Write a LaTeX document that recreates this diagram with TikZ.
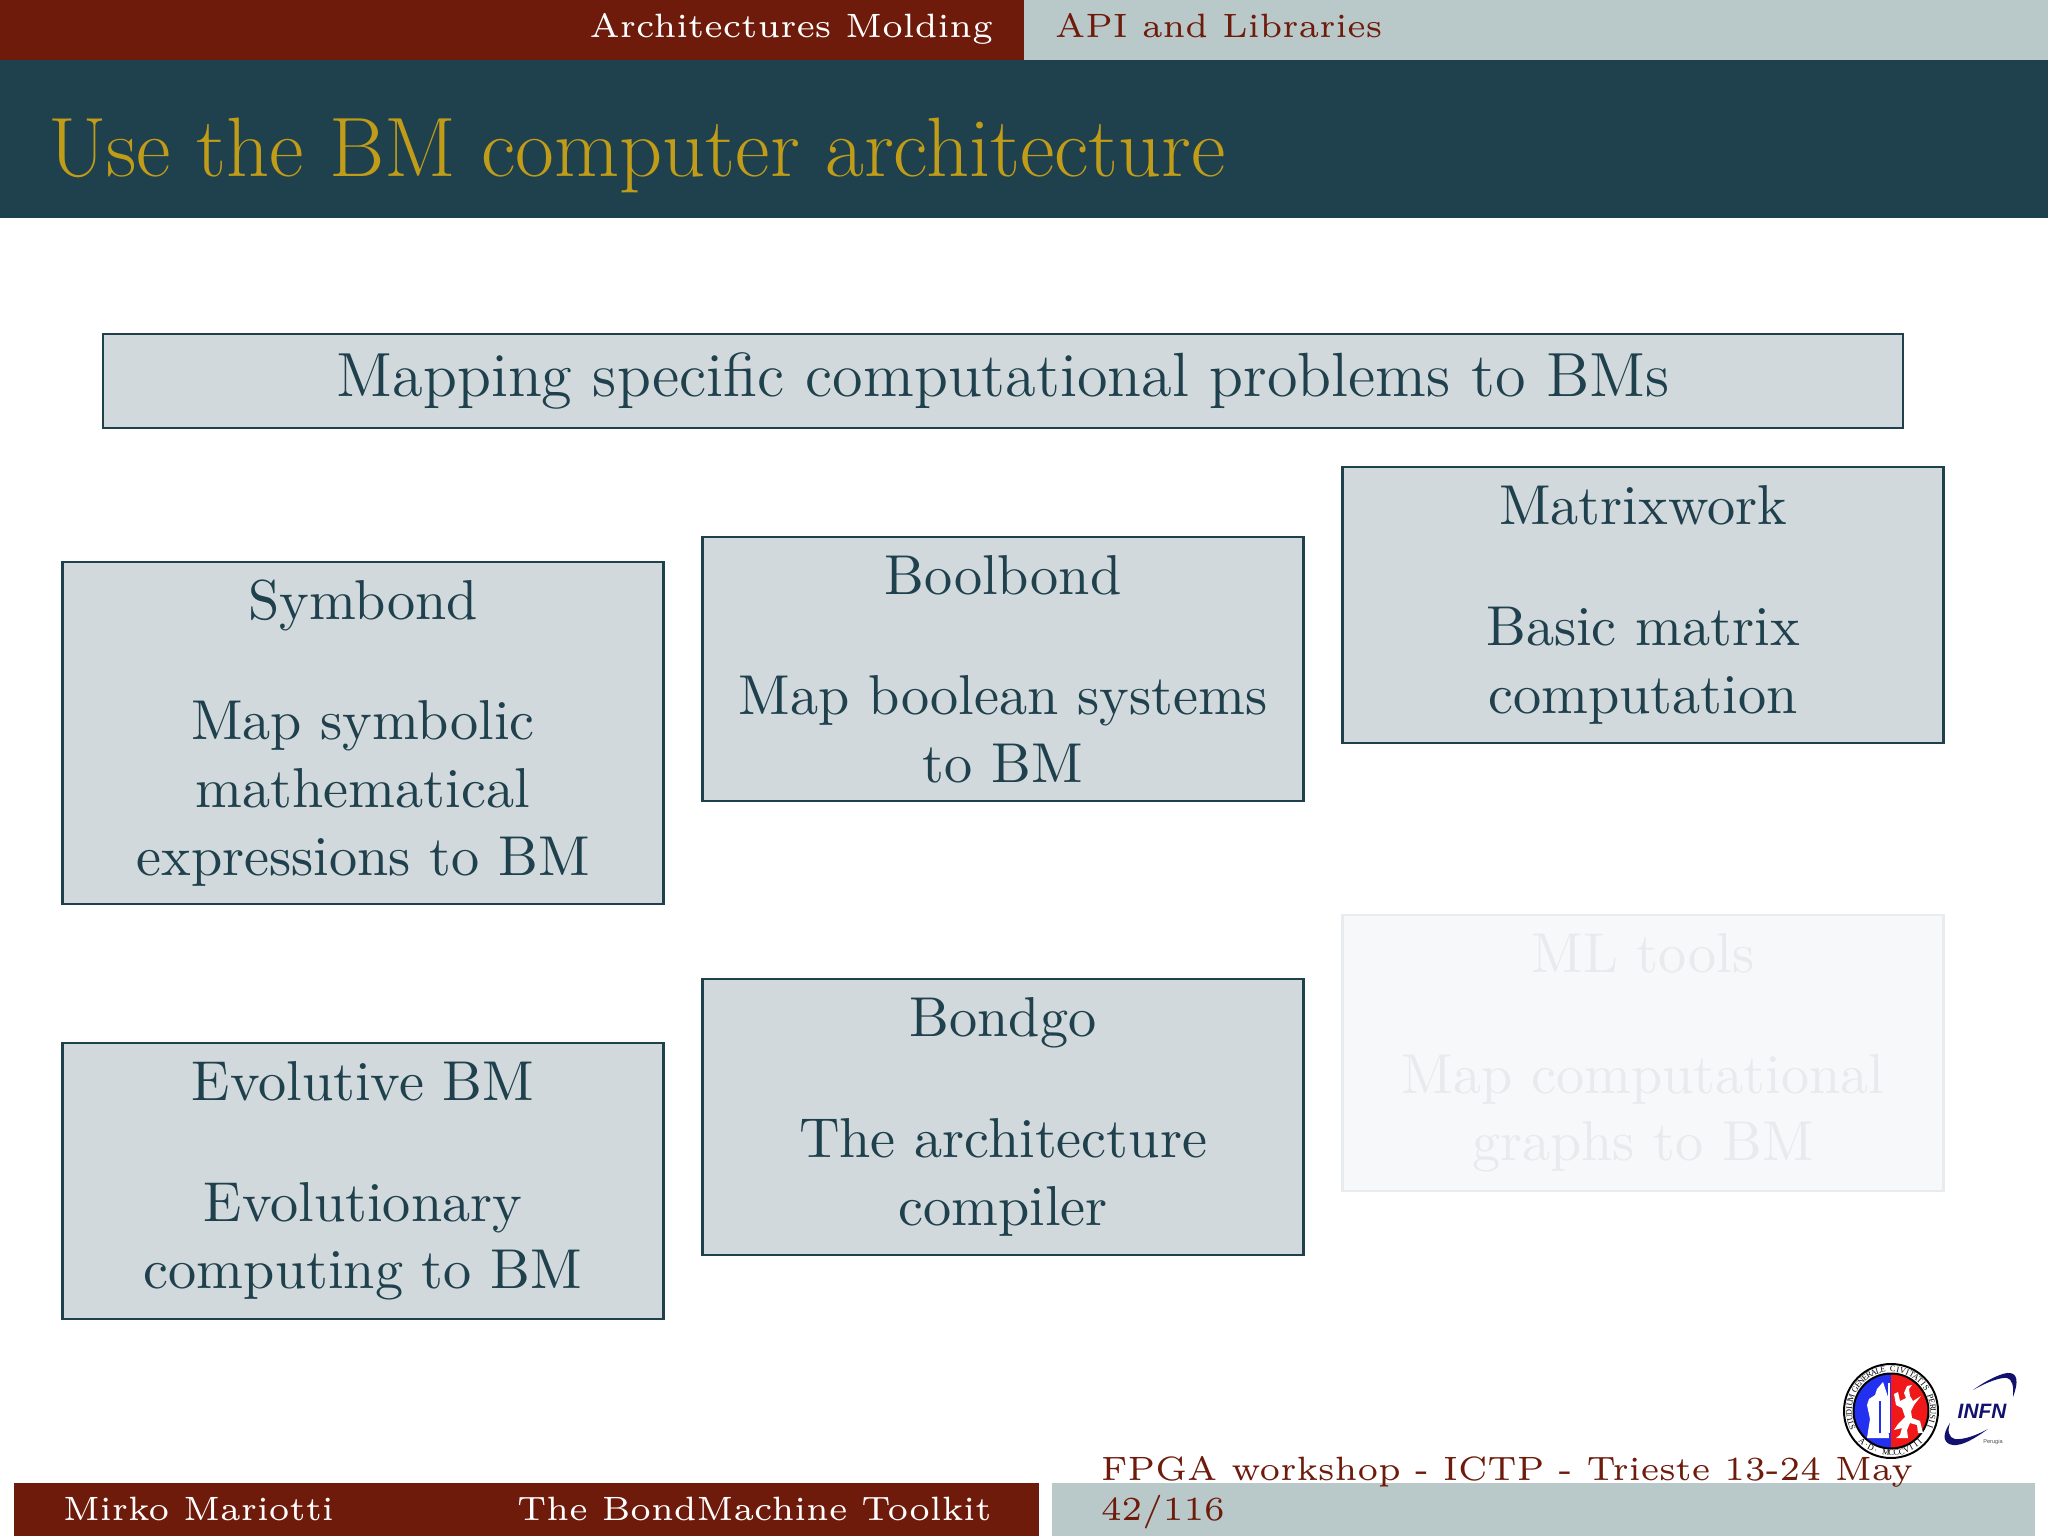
\documentclass[tikz,border=0pt]{standalone}
\usepackage{fontspec}
\newfontfamily\logofont{Liberation Sans}
\newfontfamily\sealfont{Liberation Serif}
\definecolor{barred}{HTML}{6E1B0B}
\definecolor{teal}{HTML}{1F414D}
\definecolor{gold}{HTML}{C09C18}
\definecolor{tabgray}{HTML}{B9C8C8}
\definecolor{boxfill}{HTML}{D2D9DC}
\definecolor{fadefill}{HTML}{F7F8F9}
\definecolor{fadeline}{HTML}{E9ECEE}
\definecolor{fadetext}{HTML}{E8EBED}
\definecolor{sealblue}{HTML}{2430F0}
\definecolor{sealred}{HTML}{F01818}
\definecolor{infnblue}{HTML}{12126E}
\tikzset{
  block/.style={draw=teal,line width=0.4pt,fill=boxfill,text=teal,inner sep=0pt,align=center,font=\fontsize{10}{12.05}\selectfont},
  fadeblock/.style={block,draw=fadeline,fill=fadefill,text=fadetext},
  headtext/.style={inner sep=0pt,font=\fontsize{6}{9}\selectfont},
  foottext/.style={inner sep=0pt,font=\fontsize{6}{9}\selectfont,anchor=base west},
  sealch/.style={inner sep=0pt,text=black,font=\sealfont\fontsize{1.5}{2}\selectfont},
}
\begin{document}
\begin{tikzpicture}[x=0.0625mm,y=-0.0625mm]
\useasboundingbox (0,0) rectangle (2048,1536);
% header
\fill[barred] (0,0) rectangle (1024,60);
\fill[tabgray] (1024,0) rectangle (2048,60);
\fill[teal] (0,60) rectangle (2048,218);
\node[headtext,text=white,anchor=base east] (sec) at (994,38) {Architectures Molding};
\node[headtext,text=barred,anchor=base west] (sub) at (1054,38) {API and Libraries};
\node[inner sep=0pt,anchor=base west,text=gold,font=\fontsize{15}{18}\selectfont] (title) at (47,176) {Use the BM computer architecture};
% blocks
\node[block,font=\fontsize{11.1}{13}\selectfont,minimum width=1800*0.0625mm,minimum height=94*0.0625mm] (top) at (1003,381) {Mapping specific computational problems to BMs};
\node[block,minimum width=601*0.0625mm,minimum height=342*0.0625mm] (symbond) at (363,733) {Symbond\\[9.4pt]Map symbolic\\mathematical\\expressions to BM};
\node[block,minimum width=601*0.0625mm,minimum height=264*0.0625mm] (boolbond) at (1003,669) {Boolbond\\[9.4pt]Map boolean systems\\to BM};
\node[block,minimum width=601*0.0625mm,minimum height=276*0.0625mm] (matrix) at (1643,605) {Matrixwork\\[9.4pt]Basic matrix\\computation};
\node[block,minimum width=601*0.0625mm,minimum height=276*0.0625mm] (evol) at (363,1181) {Evolutive BM\\[9.4pt]Evolutionary\\computing to BM};
\node[block,minimum width=601*0.0625mm,minimum height=276*0.0625mm] (bondgo) at (1003,1117) {Bondgo\\[9.4pt]The architecture\\compiler};
\node[fadeblock,minimum width=601*0.0625mm,minimum height=276*0.0625mm] (ml) at (1643,1053) {ML tools\\[9.4pt]Map computational\\graphs to BM};
% footer
\fill[barred] (14,1483) rectangle (1039,1536);
\fill[tabgray] (1052,1483) rectangle (2035,1536);
\node[foottext,text=white] (author) at (62,1520) {Mirko Mariotti};
\node[foottext,text=white] (talk) at (516,1520) {The BondMachine Toolkit};
\node[foottext,text=barred] (event) at (1100,1480) {FPGA workshop - ICTP - Trieste 13-24 May};
\node[foottext,text=barred] (page) at (1100,1520) {42/116};
% seal
\begin{scope}[shift={(1891,1411)},x=0.0625mm,y=0.0625mm]
\fill[white] (0,0) circle (47);
\draw[black,line width=0.35pt] (0,0) circle (47);
\fill[sealblue] (0,37) arc (90:270:37) -- cycle;
\fill[sealred] (0,-37) arc (-90:90:37) -- cycle;
\draw[black,line width=0.35pt] (0,0) circle (37.5);
\foreach \ch [count=\i] in {S,T,U,D,I,U,M,{},G,E,N,E,R,A,L,E,{},C,I,V,I,T,A,T,I,S,{},P,E,R,U,S,I,I}
  \node[sealch,rotate={209.8-\i*6.8-90}] (up\i) at ({209.8-\i*6.8}:42) {\ch};
\foreach \ch [count=\i] in {A,.,D,.,{},M,C,C,C,V,I,I,I}
  \node[sealch,rotate={219.8+\i*7.2-270}] (lo\i) at ({219.8+\i*7.2}:42) {\ch};
% bishop
\fill[white] (-8,29) -- (-5,20) -- (-3,14) -- (-1,4) -- (-3,-12) -- (-2,-27) -- (-24,-27) -- (-21,-8) -- (-24,6) -- (-22,12) -- (-16,16) -- (-14,22) -- cycle;
\fill[sealblue] (-12.5,10) rectangle (-10.5,-22);
\draw[white,line width=0.25pt] (-2,28) -- (-2,-22);
% griffin
\fill[white] (9,-24) -- (5,-27) -- (17,-27) -- (16,-19) -- (19,-12) -- (26,-14) -- (27,-22) -- (32,-22) -- (29,-10) -- (21,-7) -- (20,0) -- (23,6) -- (30,15) -- (22,10) -- (19,15) -- (18,22) -- (21,26) -- (16,25) -- (13,18) -- (15,13) -- (9,10) -- (7,19) -- (3,17) -- (5,6) -- (11,3) -- (14,-6) -- (7,-13) -- (3,-19) -- (11,-17) -- cycle;
\end{scope}
% INFN logo
\begin{scope}[shift={(1982,1411)},x=0.0625mm,y=0.0625mm]
\fill[infnblue] (-9,21) .. controls (6,32) and (22,39) .. (28,38) .. controls (35,37) and (37,30) .. (31,14) .. controls (32,25) and (30,32) .. (25,33) .. controls (19,34) and (5,29) .. (-9,21) -- cycle;
\fill[infnblue] (6,-18) .. controls (-8,-28) and (-20,-35) .. (-29,-34) .. controls (-38,-33) and (-41,-25) .. (-32,-12) .. controls (-35,-20) and (-33,-27) .. (-27,-28) .. controls (-18,-29) and (-5,-24) .. (6,-18) -- cycle;
\node[inner sep=0pt,text=infnblue,font=\logofont\bfseries\itshape\fontsize{3.7}{4}\selectfont] (infn) at (0,0) {INFN};
\node[inner sep=0pt,text=black!70,font=\logofont\fontsize{1}{1.2}\selectfont] (perugia) at (11,-31) {Perugia};
\end{scope}
\end{tikzpicture}
\end{document}
